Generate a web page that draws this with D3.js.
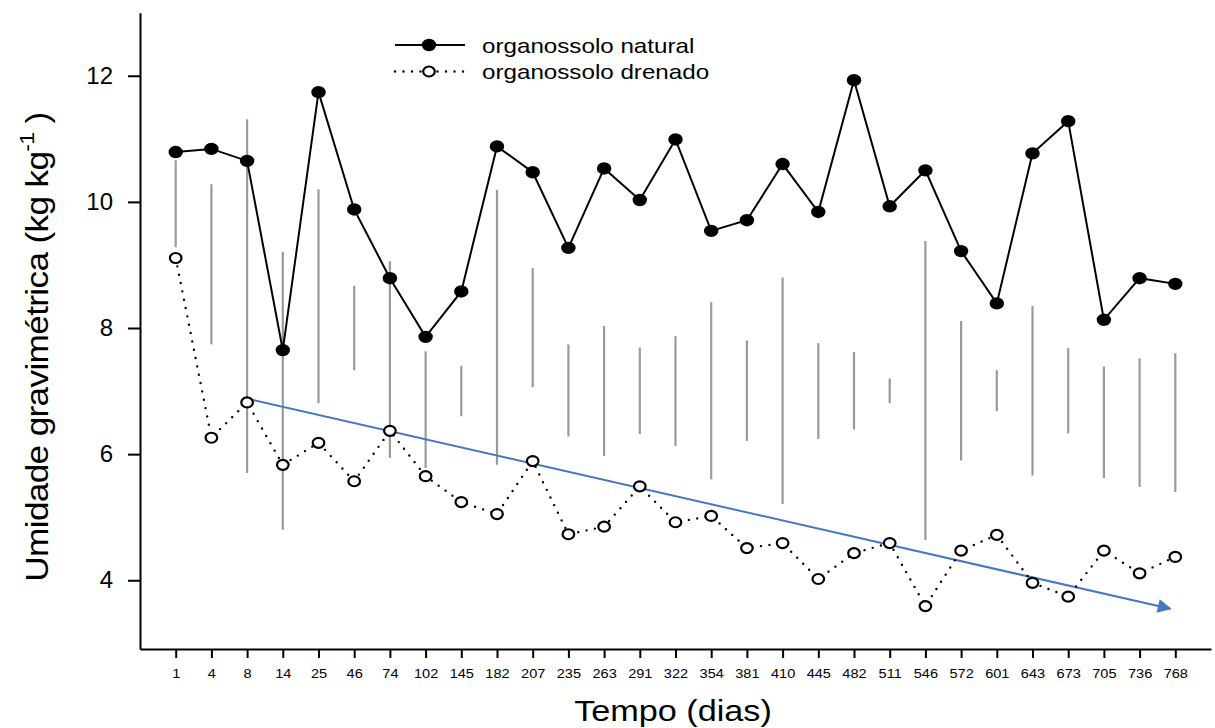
<!DOCTYPE html>
<html>
<head>
<meta charset="utf-8">
<script src="https://cdn.jsdelivr.net/npm/d3@7"></script>
<style>
  html, body { margin: 0; padding: 0; background: #fff; }
  svg text { font-family: "Liberation Sans", Arial, Helvetica, sans-serif; fill: #000; }
</style>
</head>
<body>
<svg id="chart" width="1215" height="728"></svg>
<script>
// Sampling days (x categories)
const days = ["1","4","8","14","25","46","74","102","145","182","207","235","263","291","322",
              "354","381","410","445","482","511","546","572","601","643","673","705","736","768"];

// Gravimetric moisture, natural organosol (kg kg-1)
const natural = [10.79, 10.84, 10.65, 7.65, 11.74, 9.88, 8.79, 7.86, 8.58, 10.88, 10.47, 9.27, 10.53, 10.03, 10.99,
                 9.54, 9.71, 10.60, 9.84, 11.93, 9.93, 10.50, 9.22, 8.39, 10.77, 11.28, 8.13, 8.79, 8.70];

// Gravimetric moisture, drained organosol (kg kg-1)
const drenado = [9.11, 6.26, 6.82, 5.83, 6.18, 5.57, 6.37, 5.65, 5.24, 5.05, 5.89, 4.73, 4.85, 5.49, 4.92,
                 5.02, 4.51, 4.59, 4.02, 4.43, 4.59, 3.59, 4.47, 4.72, 3.96, 3.74, 4.47, 4.11, 4.37];

// Grey interval bars: lower and upper limits
const rangeLow  = [9.28, 7.74, 5.70, 4.80, 6.81, 7.33, 5.94, 5.78, 6.60, 5.83, 7.06, 6.28, 5.97, 6.32, 6.13,
                   5.60, 6.21, 5.21, 6.24, 6.39, 6.81, 4.64, 5.90, 6.68, 5.66, 6.33, 5.62, 5.48, 5.40];
const rangeHigh = [10.66, 10.28, 11.31, 9.21, 10.20, 8.67, 9.06, 7.63, 7.40, 10.19, 8.95, 7.74, 8.03, 7.69, 7.87,
                   8.41, 7.80, 8.80, 7.76, 7.62, 7.20, 9.38, 8.11, 7.33, 8.35, 7.68, 7.39, 7.52, 7.60];

// Y axis ticks
const yTicks = [4, 6, 8, 10, 12];

// Trend arrow for the drained series
const trendDays   = ["8", "768"];
const trendValues = [6.88, 3.53];

const seriesNames = ["organossolo natural", "organossolo drenado"];

const svg = d3.select("#chart");

const x = d3.scalePoint().domain(days).range([140, 1211]).padding(1);
const y = d3.scaleLinear().domain([2.91, 13]).range([649, 12.7]);

// Stretch text horizontally by a factor
function stretch(sel, sx) {
  sel.each(function () {
    const t = d3.select(this);
    const prev = t.attr("transform") || "";
    t.attr("transform", prev + " scale(" + sx + ",1)");
  });
}

// Grey interval bars
svg.append("g")
  .selectAll("line")
  .data(days)
  .join("line")
  .attr("x1", d => x(d)).attr("x2", d => x(d))
  .attr("y1", (d, i) => y(rangeLow[i]))
  .attr("y2", (d, i) => y(rangeHigh[i]))
  .attr("stroke", "#9a9a9a")
  .attr("stroke-width", 2.2);

// Trend arrow
const defs = svg.append("defs");
defs.append("marker")
  .attr("id", "arrowHead")
  .attr("viewBox", "0 0 10 10")
  .attr("refX", 9).attr("refY", 5)
  .attr("markerWidth", 9).attr("markerHeight", 7)
  .attr("markerUnits", "strokeWidth")
  .attr("orient", "auto")
  .append("path")
  .attr("d", "M0,0 L10,5 L0,10 Z")
  .attr("fill", "#4677c0");

const x0 = x(trendDays[0]), y0 = y(trendValues[0]);
const x1 = x(trendDays[1]), y1 = y(trendValues[1]);
const len = Math.hypot(x1 - x0, y1 - y0);
const shorten = 5;
svg.append("line")
  .attr("x1", x0).attr("y1", y0)
  .attr("x2", x1 - (x1 - x0) / len * shorten)
  .attr("y2", y1 - (y1 - y0) / len * shorten)
  .attr("stroke", "#4677c0")
  .attr("stroke-width", 2)
  .attr("marker-end", "url(#arrowHead)");

// Series lines
const line = d3.line().x(d => x(d.day)).y(d => y(d.v));
const natData = days.map((d, i) => ({ day: d, v: natural[i] }));
const drenData = days.map((d, i) => ({ day: d, v: drenado[i] }));

svg.append("path")
  .datum(natData)
  .attr("d", line)
  .attr("fill", "none")
  .attr("stroke", "#000")
  .attr("stroke-width", 2);

svg.append("path")
  .datum(drenData)
  .attr("d", line)
  .attr("fill", "none")
  .attr("stroke", "#000")
  .attr("stroke-width", 2.4)
  .attr("stroke-linecap", "round")
  .attr("stroke-dasharray", "0 8.5");

// Markers
svg.append("g")
  .selectAll("ellipse")
  .data(natData)
  .join("ellipse")
  .attr("cx", d => x(d.day)).attr("cy", d => y(d.v))
  .attr("rx", 7.2).attr("ry", 6.2)
  .attr("fill", "#000");

svg.append("g")
  .selectAll("ellipse")
  .data(drenData)
  .join("ellipse")
  .attr("cx", d => x(d.day)).attr("cy", d => y(d.v))
  .attr("rx", 5.8).attr("ry", 5)
  .attr("fill", "#fff")
  .attr("stroke", "#000")
  .attr("stroke-width", 2.2);

// Axes
const xAxis = svg.append("g")
  .attr("transform", "translate(0,649)")
  .call(d3.axisBottom(x).tickSize(9).tickSizeOuter(0).tickPadding(11));
xAxis.select(".domain").attr("stroke-width", 2);
xAxis.selectAll(".tick line").attr("stroke-width", 2);
xAxis.selectAll(".tick text")
  .attr("font-size", 13)
  .attr("font-family", "Liberation Sans, Arial, sans-serif")
  .call(stretch, 1.12);

const yAxis = svg.append("g")
  .attr("transform", "translate(140,0)")
  .call(d3.axisLeft(y).tickValues(yTicks).tickFormat(d3.format("d")).tickSize(12).tickSizeOuter(0).tickPadding(15));
yAxis.select(".domain").attr("stroke-width", 2);
yAxis.selectAll(".tick line").attr("stroke-width", 2);
yAxis.selectAll(".tick text")
  .attr("font-size", 24)
  .attr("font-family", "Liberation Sans, Arial, sans-serif");

// Axis titles
svg.append("text")
  .attr("text-anchor", "middle")
  .attr("font-size", 29)
  .attr("transform", "translate(673,721) scale(1.18,1)")
  .text("Tempo (dias)");

const yTitle = svg.append("text")
  .attr("text-anchor", "middle")
  .attr("font-size", 32)
  .attr("letter-spacing", -0.6)
  .attr("transform", "translate(48,347) rotate(-90) scale(1.1,1)");
yTitle.append("tspan").text("Umidade gravimétrica (kg kg");
yTitle.append("tspan").attr("font-size", 21).attr("dy", -14).text("-1");
yTitle.append("tspan").attr("dy", 14).text(" )");

// Legend
const legend = svg.append("g");
const legRows = [
  { name: seriesNames[0], dash: null, fill: "#000", rx: 7.2, ry: 6.2, sw: 2 },
  { name: seriesNames[1], dash: "0 8.5", fill: "#fff", rx: 5.8, ry: 5, sw: 2.4 }
];
legRows.forEach((r, i) => {
  const cy = 45 + i * 26.5;
  legend.append("line")
    .attr("x1", 395).attr("x2", 465).attr("y1", cy).attr("y2", cy)
    .attr("stroke", "#000").attr("stroke-width", r.sw)
    .attr("stroke-linecap", r.dash ? "round" : "butt")
    .attr("stroke-dasharray", r.dash);
  legend.append("ellipse")
    .attr("cx", 429).attr("cy", cy)
    .attr("rx", r.rx).attr("ry", r.ry)
    .attr("fill", r.fill)
    .attr("stroke", i === 1 ? "#000" : "none")
    .attr("stroke-width", 2.2);
  legend.append("text")
    .attr("font-size", 20.5)
    .attr("transform", "translate(482," + (cy + 7.5) + ") scale(1.18,1)")
    .text(r.name);
});
</script>
</body>
</html>
